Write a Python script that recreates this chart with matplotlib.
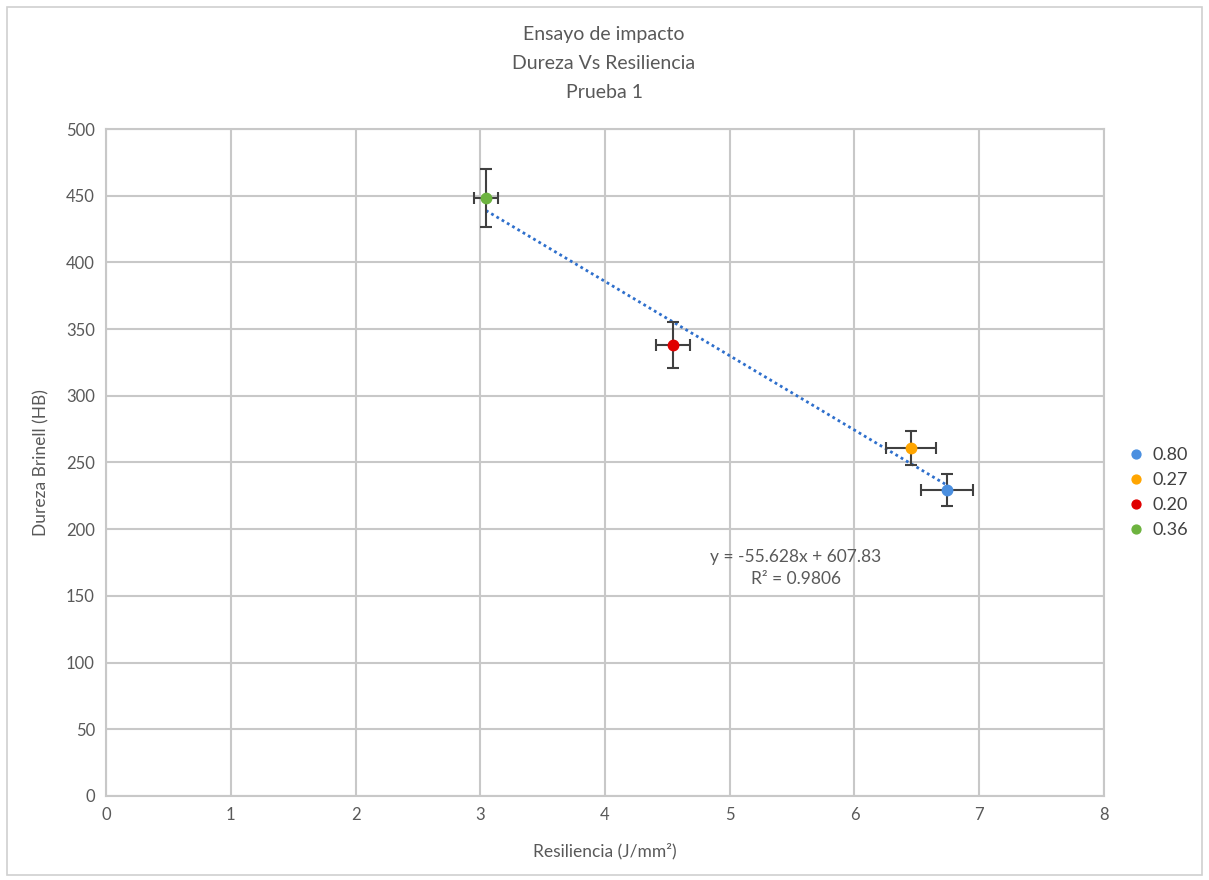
import numpy as np
import matplotlib
matplotlib.use("Agg")
import matplotlib.pyplot as plt
from matplotlib.patches import Rectangle

# datos
labels = ["0.80", "0.27", "0.20", "0.36"]
resiliencia = [6.74, 6.45, 4.545, 3.046]
dureza = [229.4, 260.9, 338.0, 448.3]
err_x = [0.21, 0.20, 0.14, 0.10]
err_y = [12.0, 13.0, 17.0, 22.0]
colors = ["#4A8FE0", "#FFA500", "#E00000", "#6DB33F"]

eq_text = "y = -55.628x + 607.83\nR\u00b2 = 0.9806"

plt.rcParams["font.family"] = ["Lato", "DejaVu Sans"]
gray_txt = "#595959"
grid_col = "#C8C8C8"

fig = plt.figure(figsize=(12.09, 8.80), dpi=100)
ax = fig.add_axes([0.0877, 0.0955, 0.8254, 0.7579])

# borde exterior del grafico
fig.patches.append(Rectangle((0.006, 0.006), 0.988, 0.986, transform=fig.transFigure,
                             fill=False, edgecolor="#D0D0D0", linewidth=1.2))

# linea de tendencia
m, b = np.polyfit(resiliencia, dureza, 1)
xs = np.array([min(resiliencia), max(resiliencia)])
ax.plot(xs, m * xs + b, linestyle=(0, (1, 1.2)), color="#2E6FCC", linewidth=2.0, zorder=3)

for xv, yv, ex, ey, c, lab in zip(resiliencia, dureza, err_x, err_y, colors, labels):
    ax.errorbar(xv, yv, xerr=ex, yerr=ey, fmt="none", ecolor="#404040",
                elinewidth=1.5, capsize=4, capthick=1.5, zorder=4)
    ax.plot(xv, yv, "o", color=c, markersize=7.5, label=lab, zorder=5)

ax.text(5.53, 171, eq_text, ha="center", va="center", fontsize=12.5, color=gray_txt,
        linespacing=1.45)

ax.set_xlim(0, 8)
ax.set_ylim(0, 500)
ax.set_xticks(np.arange(0, 9, 1))
ax.set_yticks(np.arange(0, 501, 50))
ax.grid(True, color=grid_col, linewidth=1.5)
ax.set_axisbelow(True)
for s in ax.spines.values():
    s.set_color(grid_col)
    s.set_linewidth(1.5)
ax.tick_params(length=0, labelsize=12, colors=gray_txt, pad=8)

ax.set_xlabel("Resiliencia (J/mm\u00b2)", fontsize=12.5, color=gray_txt, labelpad=14)
ax.set_ylabel("Dureza Brinell (HB)", fontsize=12.5, color=gray_txt, labelpad=12)

fig.text(0.4996, 0.970, "Ensayo de impacto\nDureza Vs Resiliencia\nPrueba 1",
         ha="center", va="top", fontsize=14, color=gray_txt, linespacing=1.85)

leg = ax.legend(loc="center left", bbox_to_anchor=(1.005, 0.455), frameon=False,
                fontsize=13, handletextpad=0.3, labelspacing=0.5, markerscale=0.85,
                handlelength=1.2)
for t in leg.get_texts():
    t.set_color("#404040")

fig.savefig("out.png", dpi=100)
